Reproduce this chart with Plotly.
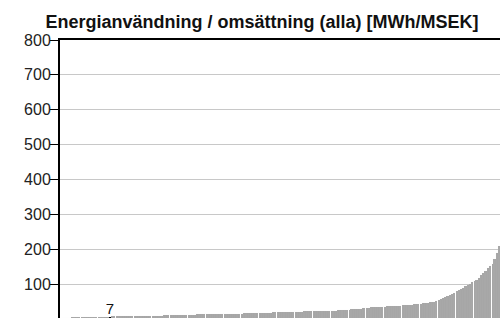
import plotly.graph_objects as go

title_text = "Energianvändning / omsättning (alla) [MWh/MSEK]"
highlight_index = 22
highlight_label = "7"

values = (
    [1, 2, 2, 3, 4, 5]
    + [6, 6, 6, 6, 6, 6, 6, 6, 7, 7, 7, 7, 7, 7, 7, 7]
    + [7]
    + [8, 8, 8, 8, 8, 8, 9, 9, 9, 9, 9, 9, 9, 9, 10, 10, 10, 10, 10, 10, 10, 10,
       10, 11, 11, 11, 11, 11, 11, 11, 11]
    + [12, 12, 12, 12, 12, 12, 12, 13, 13, 13, 13, 13, 13, 13, 13, 14, 14, 14, 14,
       14, 14, 14, 15, 15, 15, 15, 15, 15]
    + [16, 16, 17, 17, 17, 17, 17, 18, 18, 18, 18, 18, 18, 19, 19, 19, 19, 19, 19,
       19, 20, 20, 20]
    + [20, 21, 21, 21, 22, 22, 22, 22, 23, 23, 23, 23, 23, 24, 24, 24, 24, 24, 24,
       25, 25, 25, 25]
    + [26, 27, 28, 28, 29, 30, 30, 31]
    + [32, 32, 32, 33, 33, 33, 33, 34]
    + [35, 35, 36, 36, 37, 37, 37, 38, 38]
    + [39, 40, 40, 41, 41, 42, 42, 43]
    + [44, 45, 46, 47, 48, 49, 50, 52]
    + [55, 57, 60, 63, 66, 69, 72, 76]
    + [80, 84, 87, 90, 94, 97, 101, 105]
    + [108, 112, 118, 125, 131, 138, 145, 152]
    + [158, 172, 190, 209]
)
categories = list(range(1, len(values) + 1))
y_ticks = [0, 100, 200, 300, 400, 500, 600, 700, 800]

FIG_W, FIG_H = 500, 320
M_L, M_R, M_T, M_B = 60, 0, 40, 1
plot_w = FIG_W - M_L - M_R
n = len(values)

bar_grey = "#a8a8a8"
colors = [bar_grey] * n
colors[highlight_index] = "#000000"
texts = [""] * n
texts[highlight_index] = highlight_label

# thin white gaps between bars, as seen every 8 bars in the reference
sep_every = 8
sep_start = 1
sep_x = [j + 0.5 for j in range(sep_start, n, sep_every)]
sep_y = [max(values[j - 1], values[j]) for j in range(sep_start, n, sep_every)]
one_px = n / plot_w

fig = go.Figure()
fig.add_trace(go.Bar(
    x=categories, y=values, width=1,
    marker=dict(color=colors, line=dict(width=0.02, color=colors)),
    text=texts, textposition="outside", constraintext="none",
    textfont=dict(family="Liberation Sans, Arial", size=15, color="#111111"),
    cliponaxis=False, hoverinfo="skip",
))
fig.add_trace(go.Bar(
    x=sep_x, y=sep_y, width=one_px,
    marker=dict(color="#ffffff", line=dict(width=0.02, color="#ffffff")),
    hoverinfo="skip",
))

fig.update_layout(
    width=FIG_W, height=FIG_H,
    margin=dict(l=M_L, r=M_R, t=M_T, b=M_B),
    paper_bgcolor="white", plot_bgcolor="white",
    barmode="overlay", bargap=0, bargroupgap=0,
    showlegend=False,
    title=dict(text="<b>" + title_text + "</b>", x=262 / FIG_W, xanchor="center",
               y=1 - 21.5 / FIG_H, yanchor="middle", yref="container",
               font=dict(family="Liberation Sans, Arial", size=18, color="#111111")),
    xaxis=dict(side="top", showline=True, linecolor="#000000", linewidth=2,
               showticklabels=False, ticks="", showgrid=False, zeroline=False,
               range=[0.5, n + 0.5]),
    yaxis=dict(range=[0, 800], tickvals=y_ticks, ticks="outside", ticklen=8,
               tickcolor="#000000", tickwidth=1, showline=True, linecolor="#000000",
               linewidth=2, showgrid=True, gridcolor="#c8c8c8", gridwidth=1,
               zeroline=False, ticklabelstandoff=-4,
               tickfont=dict(family="Liberation Sans, Arial", size=16, color="#222222")),
)

fig.write_html(
    "out.html",
    config={"displayModeBar": False},
    post_script=(
        "document.body.style.margin='0';"
        "document.body.style.overflow='hidden';"
        "document.documentElement.style.overflow='hidden';"
    ),
)
